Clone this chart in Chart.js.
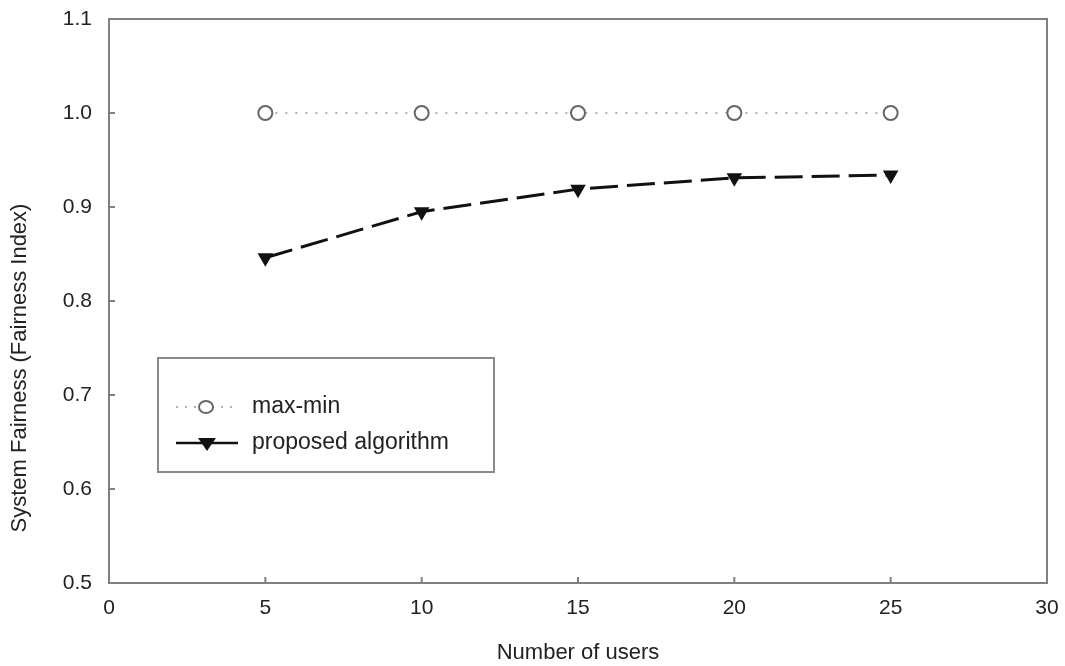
<!DOCTYPE html>
<html>
<head>
<meta charset="utf-8">
<script src="https://cdn.jsdelivr.net/npm/chart.js@4.4.0/dist/chart.umd.min.js"></script>
<style>
  html, body { margin: 0; padding: 0; background: #fff; }
  #wrap { width: 1065px; height: 666px; }
</style>
</head>
<body>
<div id="wrap"><canvas id="chart-fair"></canvas></div>
<script>
const users = [5, 10, 15, 20, 25];
const maxMin = [1.0, 1.0, 1.0, 1.0, 1.0];
const proposed = [0.846, 0.895, 0.919, 0.931, 0.934];
const xTicks = [0, 5, 10, 15, 20, 25, 30];
const yTicks = [0.5, 0.6, 0.7, 0.8, 0.9, 1.0, 1.1];
const yTitle = 'System Fairness (Fairness Index)';

const txt = '#222';
const frameCol = '#808080';
const fam = '"Liberation Sans", Arial, sans-serif';

// frame + inward ticks + y title + legend box
const framePlugin = {
    id: 'frame',
    afterDraw(chart) {
        let c = chart.ctx;
        let a = chart.chartArea;
        let xs = chart.scales.x, ys = chart.scales.y;
        c.save();
        c.strokeStyle = frameCol;
        c.lineWidth = 2;
        c.strokeRect(a.left, a.top, a.right - a.left, a.bottom - a.top);
        c.beginPath();
        xTicks.forEach(v => {
            let px = xs.getPixelForValue(v);
            c.moveTo(px, a.bottom);
            c.lineTo(px, a.bottom - 6);
        });
        yTicks.forEach(v => {
            let py = ys.getPixelForValue(v);
            c.moveTo(a.left, py);
            c.lineTo(a.left + 6, py);
        });
        c.stroke();

        // y axis title (sits lower than centre in the original)
        c.save();
        c.translate(20, 368);
        c.rotate(-Math.PI / 2);
        c.fillStyle = txt;
        c.font = '22px ' + fam;
        c.textAlign = 'center';
        c.textBaseline = 'middle';
        c.fillText(yTitle, 0, 0);
        c.restore();

        // legend
        let lx = 158, ly = 358, lw = 336, lh = 114;
        c.strokeStyle = '#8a8a8a';
        c.lineWidth = 2;
        c.strokeRect(lx, ly, lw, lh);
        let rows = [407, 443];
        chart.data.datasets.forEach((ds, i) => {
            let y = rows[i];
            c.save();
            c.strokeStyle = i == 0 ? '#b0b0b0' : '#111';
            c.lineWidth = i == 0 ? 2 : 2.5;
            c.setLineDash(i == 0 ? [2, 7] : []);
            c.beginPath();
            c.moveTo(176, y);
            c.lineTo(238, y);
            c.stroke();
            c.restore();
            if (i == 0) {
                c.fillStyle = '#fff';
                c.strokeStyle = '#666';
                c.lineWidth = 2;
                c.beginPath();
                c.ellipse(206, y, 7, 6, 0, 0, Math.PI * 2);
                c.fill();
                c.stroke();
            } else {
                c.fillStyle = '#111';
                c.beginPath();
                c.moveTo(198, y - 5);
                c.lineTo(216, y - 5);
                c.lineTo(207, y + 8);
                c.closePath();
                c.fill();
            }
            c.fillStyle = txt;
            c.font = '23px ' + fam;
            c.textBaseline = 'middle';
            c.textAlign = 'left';
            c.fillText(ds.label, 252, y);
        });
        c.restore();
    }
};

let ctx = document.getElementById('chart-fair').getContext('2d');

new Chart(ctx, {
    type: 'line',
    data: {
        datasets: [{
            label: 'max-min',
            data: users.map((u, i) => ({ x: u, y: maxMin[i] })),
            borderColor: '#b0b0b0',
            borderWidth: 2,
            borderDash: [2, 8],
            pointStyle: 'circle',
            pointRadius: 7,
            pointBorderWidth: 2,
            pointBorderColor: '#666',
            pointBackgroundColor: '#fff',
            tension: 0,
            fill: false
        }, {
            label: 'proposed algorithm',
            data: users.map((u, i) => ({ x: u, y: proposed[i] })),
            borderColor: '#111',
            borderWidth: 3,
            borderDash: [28, 9],
            pointStyle: 'triangle',
            rotation: 180,
            pointRadius: 9,
            pointBorderWidth: 0,
            pointBorderColor: '#111',
            pointBackgroundColor: '#111',
            tension: 0,
            fill: false
        }]
    },
    options: {
        responsive: true,
        maintainAspectRatio: false,
        animation: false,
        layout: {
            padding: { top: 19, right: 18, left: 0, bottom: 0 }
        },
        plugins: {
            legend: { display: false },
            tooltip: { enabled: false }
        },
        scales: {
            x: {
                type: 'linear',
                min: 0,
                max: 30,
                afterBuildTicks: s => { s.ticks = xTicks.map(v => ({ value: v })); },
                afterFit: s => { s.height = 83; s.paddingLeft = 0; s.paddingRight = 0; },
                grid: { display: false, drawTicks: false },
                border: { display: false },
                ticks: {
                    color: txt,
                    padding: 13,
                    maxRotation: 0,
                    font: { size: 21, family: fam }
                },
                title: {
                    display: true,
                    text: 'Number of users',
                    color: txt,
                    padding: { top: 0, bottom: 0 },
                    font: { size: 22, family: fam }
                }
            },
            y: {
                type: 'linear',
                min: 0.5,
                max: 1.1,
                afterBuildTicks: s => { s.ticks = yTicks.map(v => ({ value: v })); },
                afterFit: s => { s.width = 109; s.paddingTop = 0; s.paddingBottom = 0; },
                grid: { display: false, drawTicks: false },
                border: { display: false },
                ticks: {
                    color: txt,
                    padding: 17,
                    callback: v => v.toFixed(1),
                    font: { size: 21, family: fam }
                }
            }
        }
    },
    plugins: [framePlugin]
});
</script>
</body>
</html>
